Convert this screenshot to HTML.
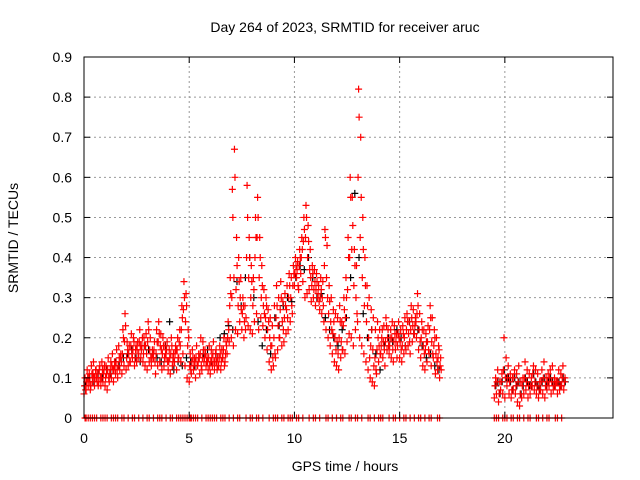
<!DOCTYPE html>
<html><head><meta charset="utf-8"><style>
body{margin:0;background:#fff}
svg{display:block;font-family:"Liberation Sans",sans-serif}
</style></head><body>
<svg id="chart" width="640" height="480" viewBox="0 0 640 480" xmlns="http://www.w3.org/2000/svg">
<rect width="640" height="480" fill="#fff"/>
<text x="345" y="32" font-size="14" text-anchor="middle">Day 264 of 2023, SRMTID for receiver aruc</text>
<text x="345" y="471" font-size="14" text-anchor="middle">GPS time / hours</text>
<text transform="translate(18,238) rotate(-90)" font-size="14" text-anchor="middle">SRMTID / TECUs</text>
<g id="grid"></g>
<g id="marks"></g>
<rect x="84" y="57" width="529" height="361" fill="none" stroke="#000" stroke-width="1"/>
<g id="ticks"></g>
</svg>
<script>
const xTicks=[0,5,10,15,20];
const yTicks=[0,0.1,0.2,0.3,0.4,0.5,0.6,0.7,0.8,0.9];
const yTickLabels=["0","0.1","0.2","0.3","0.4","0.5","0.6","0.7","0.8","0.9"];
const startA=0, stepA=0.1;
const redLow=[.06,.07,.08,.07,.09,.08,.10,.09,.08,.09,
.08,.07,.09,.10,.09,.11,.10,.12,.11,.13,
.12,.13,.14,.15,.13,.14,.16,.15,.14,.13,
.12,.14,.13,.15,.11,.13,.14,.12,.13,.15,
.12,.11,.13,.14,.12,.15,.14,.16,.13,.10,
.09,.11,.12,.10,.13,.11,.12,.14,.13,.12,
.11,.13,.12,.14,.13,.12,.15,.14,.16,.19,
.20,.18,.22,.21,.24,.22,.20,.25,.23,.22,
.21,.24,.26,.22,.25,.23,.20,.17,.14,.12,
.13,.15,.17,.20,.18,.19,.21,.22,.24,.26,
.33,.35,.32,.36,.34,.30,.31,.32,.29,.30,
.28,.30,.27,.26,.24,.22,.20,.18,.16,.14,
.13,.12,.15,.17,.16,.19,.21,.20,.18,.22,
.24,.20,.18,.16,.14,.12,.10,.09,.08,.11,
.14,.16,.15,.13,.17,.16,.15,.14,.17,.18,
.15,.14,.16,.17,.18,.16,.19,.21,.20,.17,
.15,.13,.12,.14,.16,.13,.15,.11,.12,.10];
const redHigh=[.10,.12,.11,.13,.14,.12,.11,.13,.14,.12,
.13,.15,.12,.16,.14,.17,.18,.16,.22,.26,
.19,.18,.21,.20,.17,.19,.22,.18,.20,.21,
.24,.20,.17,.19,.22,.24,.21,.20,.18,.19,
.17,.20,.16,.18,.20,.22,.28,.34,.31,.22,
.16,.17,.15,.18,.16,.20,.19,.17,.15,.18,
.17,.19,.16,.15,.18,.17,.20,.19,.24,.35,
.57,.67,.45,.40,.35,.30,.28,.58,.45,.38,
.35,.50,.55,.45,.38,.32,.30,.27,.25,.23,
.28,.33,.30,.34,.29,.31,.33,.36,.35,.38,
.40,.39,.42,.45,.50,.53,.48,.42,.38,.37,
.36,.33,.35,.34,.47,.43,.33,.30,.27,.26,
.25,.28,.24,.30,.35,.45,.60,.55,.42,.38,
.82,.70,.50,.40,.33,.30,.27,.25,.22,.24,
.22,.20,.23,.25,.22,.20,.24,.23,.21,.24,
.22,.23,.25,.26,.24,.28,.27,.25,.31,.26,
.24,.22,.21,.23,.28,.25,.22,.20,.18,.15];
const redMid1=[.08,.09,.10,.08,.11,.10,.09,.12,.10,.11,
.10,.12,.11,.13,.12,.14,.13,.15,.16,.19,
.15,.16,.18,.17,.15,.17,.19,.17,.16,.18,
.19,.17,.15,.17,.16,.19,.18,.16,.15,.17,
.14,.16,.15,.16,.17,.19,.22,.27,.24,.18,
.13,.14,.13,.15,.14,.16,.15,.15,.14,.15,
.14,.16,.14,.12,.15,.14,.17,.16,.20,.28,
.30,.35,.32,.28,.30,.26,.24,.40,.35,.30,
.28,.40,.45,.35,.30,.28,.25,.22,.20,.18,
.20,.25,.23,.27,.24,.25,.27,.30,.30,.33,
.36,.37,.38,.40,.44,.45,.40,.37,.33,.32,
.32,.31,.30,.30,.38,.35,.26,.24,.21,.20,
.19,.20,.19,.23,.25,.32,.40,.42,.33,.30,
.60,.45,.35,.28,.24,.20,.18,.17,.15,.17,
.18,.18,.19,.19,.20,.18,.20,.19,.19,.21,
.19,.18,.20,.22,.21,.22,.23,.23,.26,.22,
.20,.18,.17,.19,.22,.19,.18,.16,.15,.13];
const redMid2=[.07,.10,.09,.11,.10,.12,.08,.10,.12,.13,
.11,.10,.14,.12,.13,.12,.15,.14,.20,.23,
.17,.14,.16,.19,.18,.15,.18,.20,.18,.16,
.22,.15,.16,.14,.19,.21,.17,.18,.16,.14,
.15,.18,.14,.17,.15,.18,.25,.30,.28,.20,
.12,.15,.14,.13,.15,.13,.17,.16,.14,.13,
.15,.14,.17,.13,.16,.15,.13,.18,.22,.31,
.50,.60,.38,.34,.27,.28,.22,.50,.40,.34,
.32,.45,.50,.40,.33,.26,.28,.24,.18,.15,
.16,.28,.20,.30,.22,.28,.25,.33,.28,.36,
.38,.33,.40,.42,.47,.50,.44,.35,.36,.34,
.34,.29,.32,.28,.45,.30,.29,.22,.24,.17,
.16,.24,.17,.27,.30,.40,.55,.48,.38,.26,
.75,.55,.42,.33,.28,.15,.22,.13,.12,.20,
.16,.22,.17,.23,.18,.22,.17,.21,.15,.20,
.17,.21,.18,.24,.19,.25,.21,.24,.28,.19,
.22,.16,.19,.17,.25,.16,.20,.14,.17,.12];
const startB=19.5, stepB=0.1;
const tailLow=[.05,.06,.04,.07,.06,.05,.08,.06,.05,.07,.06,.04,.03,.05,.06,.07,.05,.06,.08,.07,.06,.05,.07,.06,.05,.07,.08,.06,.07,.08,.06,.07,.08,.07];
const tailMid=[.08,.09,.06,.09,.12,.10,.10,.09,.07,.10,.08,.09,.06,.08,.10,.09,.08,.08,.11,.09,.08,.07,.09,.10,.08,.09,.10,.09,.08,.09,.09,.08,.10,.09];
const tailHigh=[.10,.12,.09,.11,.20,.15,.13,.11,.10,.12,.11,.13,.09,.10,.14,.12,.11,.10,.13,.12,.11,.09,.12,.14,.10,.11,.12,.13,.10,.09,.12,.11,.13,.10];
const blackStep=0.2;
const blackVals=[.08,.10,.09,.11,.10,.12,.11,.14,.13,.15,.16,.17,.15,.14,.18,.17,.16,.15,.14,.18,.24,.12,.14,.13,.15,.14,.13,.15,.16,.17,
.14,.16,.20,.21,.23,.22,.34,.28,.35,.40,.30,.24,.18,.22,.16,.25,.23,.28,.30,.29,.35,.38,.37,.40,.35,.30,.31,.25,.22,.20,
.18,.22,.25,.35,.56,.40,.26,.20,.22,.16,.12,.18,.20,.19,.22,.20,.18,.24,.21,.22,.18,.15,.16,.13,.12];
const zeroTimes=[0.05,0.1,0.2,0.3,0.4,0.5,0.6,0.8,0.9,1.0,1.1,1.3,1.4,1.5,1.6,1.8,1.9,2.1,2.3,2.4,2.6,2.8,3.0,3.1,3.3,3.5,3.6,3.7,3.9,4.1,4.2,4.4,4.5,4.6,4.7,4.8,4.9,5.0,5.05,5.1,5.2,5.3,5.4,5.6,5.8,5.9,6.0,6.1,6.2,6.3,6.5,6.6,6.7,6.9,7.1,7.3,7.4,7.7,7.9,8.0,8.2,8.3,8.5,8.8,9.0,9.1,9.2,9.4,9.5,9.7,9.8,9.9,10.1,10.2,10.4,10.7,10.9,11.0,11.2,11.5,11.6,11.8,12.0,12.2,12.3,12.6,12.7,12.9,13.0,13.2,13.5,13.6,13.8,14.0,14.1,14.2,14.5,14.7,14.8,15.0,15.2,15.3,15.5,15.7,15.9,16.0,16.2,16.4,16.5,16.8,16.9,19.5,19.6,19.7,19.9,20.0,20.1,20.3,20.4,20.6,20.7,20.9,21.1,21.2,21.5,21.6,21.8,22.0,22.1,22.4,22.5,22.7];

const X0=84,X1=613,Y0=418,Y1=57,XMAX=25.14,YMAX=0.9;
const sx=t=>X0+(X1-X0)*t/XMAX;
const sy=v=>Y0-(Y0-Y1)*v/YMAX;
const NS="http://www.w3.org/2000/svg";
const grid=document.getElementById('grid'),ticks=document.getElementById('ticks'),marks=document.getElementById('marks');
function mk(tag,attrs,parent){const e=document.createElementNS(NS,tag);for(const k in attrs)e.setAttribute(k,attrs[k]);parent.appendChild(e);return e;}
xTicks.forEach(t=>{
  const x=sx(t);
  if(t>0){const g=mk('line',{x1:x,y1:Y0,x2:x,y2:Y1,stroke:'#999','stroke-dasharray':'2,3'},grid);
  
  }
  mk('line',{x1:x,y1:Y0,x2:x,y2:Y0-6,stroke:'#000'},ticks);
  mk('line',{x1:x,y1:Y1,x2:x,y2:Y1+6,stroke:'#000'},ticks);
  const l=mk('text',{x:x,y:443,'font-size':14,'text-anchor':'middle'},ticks);l.textContent=t;
  
  
});
yTicks.forEach((v,i)=>{
  const y=sy(v);
  if(v>0&&v<YMAX){const g=mk('line',{x1:X0,y1:y,x2:X1,y2:y,stroke:'#999','stroke-dasharray':'2,3'},grid);
  
  }
  mk('line',{x1:X0,y1:y,x2:X0+6,y2:y,stroke:'#000'},ticks);
  mk('line',{x1:X1,y1:y,x2:X1-6,y2:y,stroke:'#000'},ticks);
  const l=mk('text',{x:72,y:y+5,'font-size':14,'text-anchor':'end'},ticks);l.textContent=yTickLabels[i];
  
  
});
function plus(t,v,col,name){
  const x=sx(t),y=sy(v);
  const p=mk('path',{d:`M${x-3.5},${y}h7M${x},${y-3.5}v7`,stroke:col,'stroke-width':1.2,fill:'none'},marks);
  
  
}
blackVals.forEach((v,i)=>plus(startA+i*blackStep+0.07,v,'#000','black-point'));
tailMid.forEach((v,i)=>plus(startB+i*stepB+0.07,v,'#000','black-point'));
redLow.forEach((v,i)=>plus(startA+i*stepA,v,'#f00','red-point'));
redMid1.forEach((v,i)=>plus(startA+i*stepA+0.025,v,'#f00','red-point'));
redHigh.forEach((v,i)=>plus(startA+i*stepA+0.05,v,'#f00','red-point'));
redMid2.forEach((v,i)=>plus(startA+i*stepA+0.075,v,'#f00','red-point'));
tailLow.forEach((v,i)=>plus(startB+i*stepB,v,'#f00','red-point'));
tailMid.forEach((v,i)=>plus(startB+i*stepB+0.03,v,'#f00','red-point'));
tailHigh.forEach((v,i)=>plus(startB+i*stepB+0.06,v,'#f00','red-point'));
zeroTimes.forEach(t=>plus(t,0,'#f00','zero-point'));
</script>
</body></html>
